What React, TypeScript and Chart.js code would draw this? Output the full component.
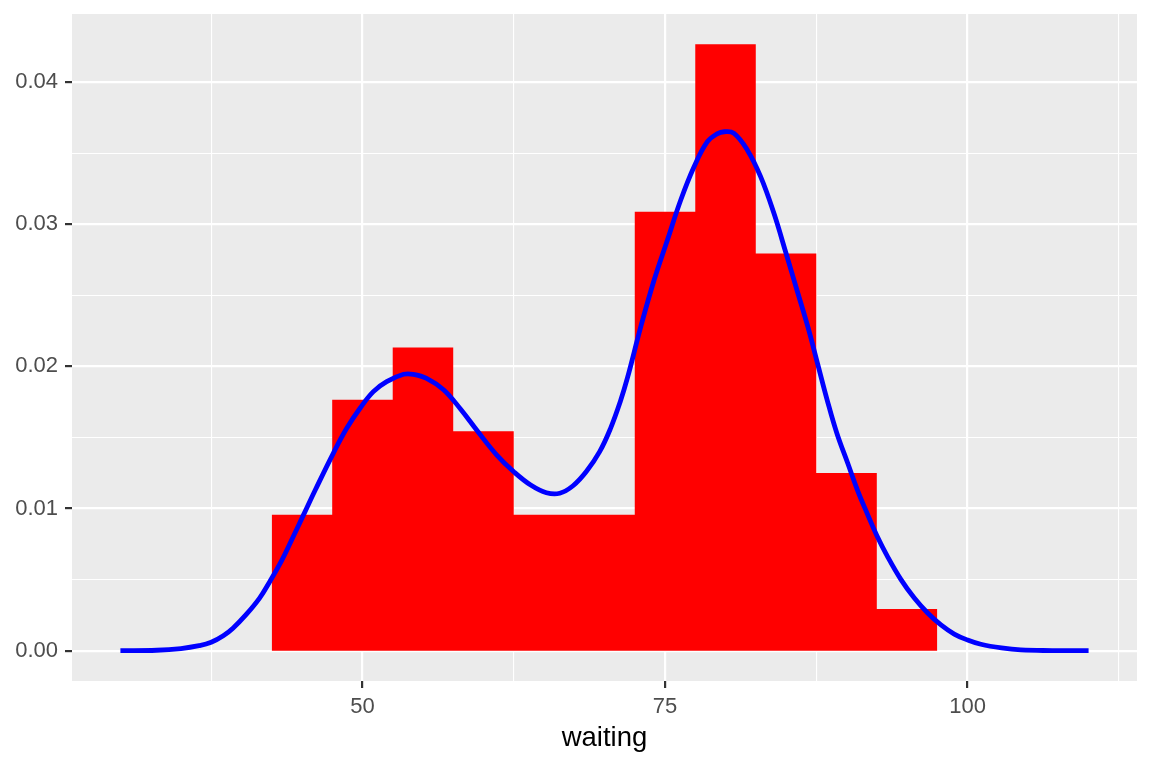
import React, { useEffect, useRef } from "react";
import { Chart, registerables } from "chart.js";

Chart.register(...registerables);

// Histogram of "waiting" (binwidth 5), density scale
const binEdges = [42.5, 47.5, 52.5, 57.5, 62.5, 67.5, 72.5, 77.5, 82.5, 87.5, 92.5, 97.5];
const binDensity = [0.00956, 0.01765, 0.02132, 0.01544, 0.00956, 0.00956, 0.03088, 0.04265, 0.02794, 0.0125, 0.00294];

// Kernel density curve
const densityX = [
  30, 33, 35, 36.5, 37.5, 38.5, 39.3, 40.4, 41.5, 42.3, 43.3, 44.1, 45.1, 46.1, 47.6, 48.7, 49.8,
  50.9, 52.0, 53.4, 54.2, 55.3, 56.7, 58.1, 59.5, 61.1, 62.5, 63.9, 65.2, 66.3, 67.4, 68.5, 69.6, 70.5,
  71.3, 71.9, 73.0, 74.1, 75.2, 76.3, 77.4, 78.5, 79.3, 79.9, 80.7, 81.8, 82.9, 84.0, 85.0, 85.9, 86.8, 87.6,
  88.4, 89.2, 90.1, 90.9, 91.7, 92.5, 93.4, 94.5, 95.6, 96.7, 97.8, 98.9, 100, 101.1, 102.8, 104.4, 107, 110,
];
const densityY = [
  0, 0.00003, 0.00015, 0.00035, 0.00059, 0.00105, 0.00158, 0.00255, 0.0037, 0.0048, 0.0063, 0.0077,
  0.0095, 0.0113, 0.0139, 0.01564, 0.01705, 0.01822, 0.01892, 0.01944, 0.01944, 0.01916, 0.01836,
  0.017, 0.01545, 0.01376, 0.01259, 0.01165, 0.01111, 0.01107, 0.0116, 0.0126, 0.014, 0.01564, 0.01751,
  0.0192, 0.02279, 0.02607, 0.02889, 0.0317, 0.03404, 0.0358, 0.03635, 0.0365, 0.03639, 0.03522, 0.03334, 0.03076,
  0.02795, 0.02537, 0.02279, 0.02021, 0.01763, 0.01529, 0.01318, 0.0113, 0.00966, 0.0081, 0.0066, 0.005,
  0.0037, 0.00265, 0.00181, 0.00117, 0.00075, 0.00045, 0.00019, 0.00005, 0.00001, 0,
];

const xTicks = [37.5, 50, 62.5, 75, 87.5, 100, 112.5];
const xMajor = [50, 75, 100];
const yTicks = [0, 0.005, 0.01, 0.015, 0.02, 0.025, 0.03, 0.035, 0.04];
const yMajor = [0, 0.01, 0.02, 0.03, 0.04];
const xTitle = "waiting";

const FONT = "'Liberation Sans', Arial, Helvetica, sans-serif";

const isMajor = (list: number[], v: number) => list.some((m) => Math.abs(m - v) < 1e-9);

export default function App() {
  const ref = useRef<HTMLCanvasElement | null>(null);

  useEffect(() => {
    document.body.style.margin = "0";
    const canvas = ref.current;
    if (!canvas) return;

    const xMinD = Math.min(...densityX);
    const xMaxD = Math.max(...densityX);
    const xPad = (xMaxD - xMinD) * 0.05;
    const yMaxD = Math.max(...binDensity, ...densityY);
    const yPad = yMaxD * 0.05;

    // step path: each bin value applies from its left edge to the next edge
    const histPoints = binEdges.map((e, i) => ({ x: e, y: i < binDensity.length ? binDensity[i] : 0 }));
    const densPoints = densityX.map((x, i) => ({ x, y: densityY[i] }));

    const panelBg = {
      id: "panelBg",
      beforeDraw(chart: any) {
        const { ctx, chartArea } = chart;
        ctx.save();
        ctx.fillStyle = "#EBEBEB";
        ctx.fillRect(chartArea.left, chartArea.top, chartArea.right - chartArea.left, chartArea.bottom - chartArea.top);
        ctx.restore();
      },
    };

    const chart = new Chart(canvas, {
      type: "line",
      data: {
        datasets: [
          {
            label: "density",
            data: densPoints,
            borderColor: "#0000FF",
            borderWidth: 4.8,
            pointRadius: 0,
            fill: false,
            tension: 0.4,
            order: 0,
          },
          {
            label: "histogram",
            data: histPoints,
            stepped: "before",
            borderWidth: 0,
            borderColor: "rgba(0,0,0,0)",
            backgroundColor: "#FF0000",
            pointRadius: 0,
            fill: "origin",
            order: 1,
          },
        ],
      },
      options: {
        animation: false,
        responsive: false,
        devicePixelRatio: 1,
        layout: { padding: { top: 14, right: 15, left: 0, bottom: 0 } },
        plugins: {
          legend: { display: false },
          tooltip: { enabled: false },
        },
        scales: {
          x: {
            type: "linear",
            min: xMinD - xPad,
            max: xMaxD + xPad,
            afterBuildTicks: (scale: any) => {
              scale.ticks = xTicks.map((v) => ({ value: v }));
            },
            afterFit: (scale: any) => {
              scale.height = 87;
              scale.paddingLeft = 0;
              scale.paddingRight = 0;
            },
            border: { display: false },
            grid: {
              color: "#FFFFFF",
              lineWidth: (c: any) => (isMajor(xMajor, c.tick?.value) ? 2.2 : 1.1),
              tickColor: (c: any) => (isMajor(xMajor, c.tick?.value) ? "#333333" : "rgba(0,0,0,0)"),
              tickWidth: 2.2,
              tickLength: 7,
              drawTicks: true,
            },
            ticks: {
              autoSkip: false,
              maxRotation: 0,
              padding: 6,
              color: "#4D4D4D",
              font: { family: FONT, size: 22 },
              callback: (v: any) => (isMajor(xMajor, Number(v)) ? String(v) : ""),
            },
            title: {
              display: true,
              text: xTitle,
              color: "#000000",
              font: { family: FONT, size: 27.5 },
              padding: { top: 0, bottom: 13 },
            },
          },
          y: {
            type: "linear",
            min: -yPad,
            max: yMaxD + yPad,
            afterBuildTicks: (scale: any) => {
              scale.ticks = yTicks.map((v) => ({ value: v }));
            },
            afterFit: (scale: any) => {
              scale.width = 72;
              scale.paddingTop = 0;
              scale.paddingBottom = 0;
            },
            border: { display: false },
            grid: {
              color: "#FFFFFF",
              lineWidth: (c: any) => (isMajor(yMajor, c.tick?.value) ? 2.2 : 1.1),
              tickColor: (c: any) => (isMajor(yMajor, c.tick?.value) ? "#333333" : "rgba(0,0,0,0)"),
              tickWidth: 2.2,
              tickLength: 7,
              drawTicks: true,
            },
            ticks: {
              autoSkip: false,
              padding: 7,
              color: "#4D4D4D",
              font: { family: FONT, size: 22 },
              callback: (v: any) => (isMajor(yMajor, Number(v)) ? Number(v).toFixed(2) : ""),
            },
          },
        },
      },
      plugins: [panelBg],
    } as any);

    return () => chart.destroy();
  }, []);

  return (
    <div style={{ width: 1152, height: 768, background: "#FFFFFF" }}>
      <canvas ref={ref} width={1152} height={768} style={{ display: "block" }} />
    </div>
  );
}
